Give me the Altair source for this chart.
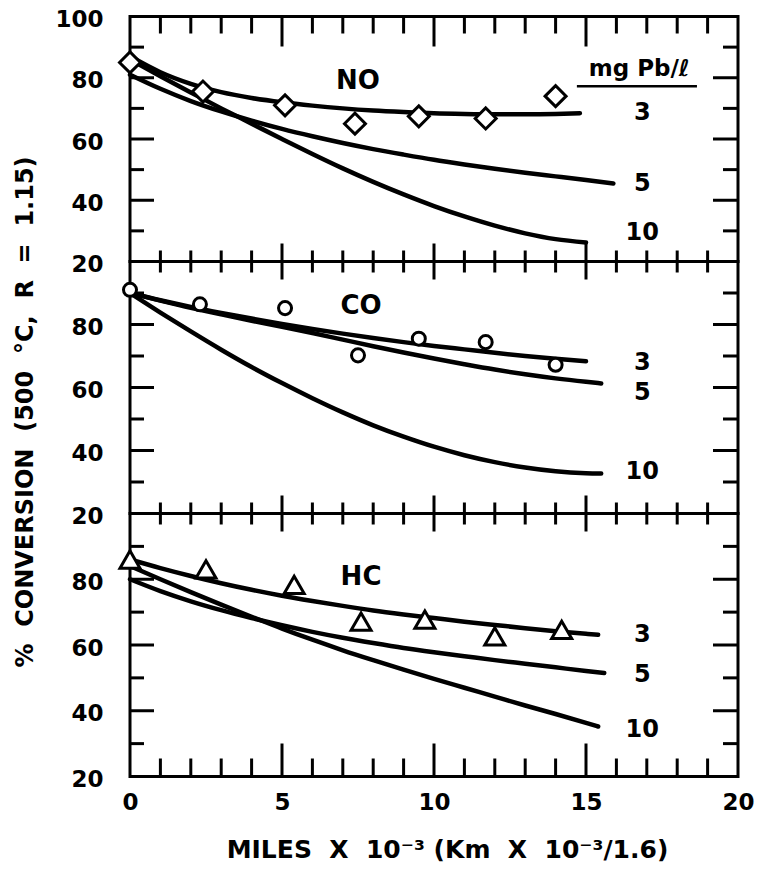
import altair as alt
import pandas as pd

FONT = "DejaVu Sans"

# ---------------- data ----------------
no3_x = [0, 1, 2, 3, 4, 5, 6, 7, 8, 9, 10, 11, 12, 13, 14, 14.8]
no3_y = [87, 81.8, 78, 75.3, 73.4, 72, 70.9, 70, 69.3, 68.8, 68.4, 68.2, 68.1, 68.1, 68.2, 68.4]
no5_x = [0, 1, 2, 3, 4, 5, 6, 7, 8, 9, 10, 11, 12, 13, 14, 15, 15.9]
no5_y = [81, 76.4, 72.4, 69, 66, 63.3, 60.9, 58.7, 56.7, 54.9, 53.2, 51.7, 50.3, 49, 47.8, 46.6, 45.5]
no10_x = [0, 1, 2, 3, 4, 5, 6, 7, 8, 9, 10, 11, 12, 13, 14, 15]
no10_y = [86, 80.5, 75.2, 70, 65, 60, 55.1, 50.4, 46, 41.9, 38.1, 34.7, 31.7, 29.2, 27.3, 26.2]
no_pts_x = [0, 2.4, 5.1, 7.4, 9.5, 11.7, 14.0]
no_pts_y = [85, 75.5, 71, 65, 67.4, 66.7, 74]

co3_x = [0, 1, 2, 3, 4, 5, 6, 7, 8, 9, 10, 11, 12, 13, 14, 15]
co3_y = [90, 87.7, 85.6, 83.7, 81.9, 80.2, 78.6, 77.1, 75.7, 74.4, 73.2, 72.1, 71, 70, 69.1, 68.3]
co5_x = [0, 1, 2, 3, 4, 5, 6, 7, 8, 9, 10, 11, 12, 13, 14, 15, 15.5]
co5_y = [90, 87.6, 85.3, 83.2, 81.2, 79.3, 77.3, 75.2, 73.1, 71.1, 69.2, 67.4, 65.7, 64.2, 62.9, 61.8, 61.3]
co10_x = [0, 1, 2, 3, 4, 5, 6, 7, 8, 9, 10, 11, 12, 13, 14, 15, 15.5]
co10_y = [90, 83.8, 77.8, 72, 66.5, 61.4, 56.6, 52.1, 48, 44.4, 41.2, 38.5, 36.3, 34.6, 33.4, 32.8, 32.7]
co_pts_x = [0, 2.3, 5.1, 7.5, 9.5, 11.7, 14.0]
co_pts_y = [91, 86.4, 85.2, 70.2, 75.5, 74.4, 67.2]

hc3_x = [0, 1, 2, 3, 4, 5, 6, 7, 8, 9, 10, 11, 12, 13, 14, 15, 15.4]
hc3_y = [86, 83.4, 81, 78.8, 76.8, 75, 73.4, 71.9, 70.5, 69.3, 68.2, 67.1, 66.1, 65.1, 64.2, 63.4, 63.1]
hc5_x = [0, 1, 2, 3, 4, 5, 6, 7, 8, 9, 10, 11, 12, 13, 14, 15, 15.6]
hc5_y = [80, 76.4, 73.3, 70.6, 68.2, 66, 64, 62.2, 60.6, 59.1, 57.8, 56.6, 55.4, 54.3, 53.2, 52.1, 51.5]
hc10_x = [0, 1, 2, 3, 4, 5, 6, 7, 8, 9, 10, 11, 12, 13, 14, 15, 15.4]
hc10_y = [84, 80, 76.1, 72.3, 68.6, 65, 61.6, 58.4, 55.4, 52.5, 49.7, 47, 44.3, 41.6, 39, 36.3, 35.2]
hc_pts_x = [0, 2.5, 5.4, 7.6, 9.7, 12.0, 14.2]
hc_pts_y = [86, 83, 78.3, 67.1, 67.7, 62.6, 64.6]

series_names = ["3", "5", "10"]
label_x = 16.85
no_label_y = [68.5, 45.2, 29.3]
co_label_y = [67.7, 58.2, 33.3]
hc_label_y = [63.1, 50.9, 34.2]

panel_names = ["NO", "CO", "HC"]
panel_name_x = [7.5, 7.6, 7.6]
panel_name_y = [79, 86, 80.8]

legend_title = "mg Pb/ℓ"
legend_title_x = 16.75
legend_title_y = 82.7
underline_x = [14.7, 18.65]
underline_y = 77.2

x_major = [5, 10, 15]
x_minor = [1, 2, 3, 4, 6, 7, 8, 9, 11, 12, 13, 14, 16, 17, 18, 19]
y_major = [40, 60, 80]
y_minor = [30, 50, 70, 90]
x_labels = [0, 5, 10, 15, 20]
y_labels_top = [20, 40, 60, 80, 100]
y_labels = [20, 40, 60, 80]

SP = "\u00a0\u00a0"
x_title = f"MILES{SP}X{SP}10⁻³ (Km{SP}X{SP}10⁻³/1.6)"
y_title = f"%{SP}CONVERSION{SP}(500{SP}°C,{SP}R{SP}={SP}1.15)"

W = 608
HEIGHTS = [245, 252, 263]

xscale = alt.Scale(domain=[0, 20], nice=False, zero=False)
yscale = alt.Scale(domain=[20, 100], nice=False, zero=False)


def curves_df(xs_list, ys_list):
    rows = []
    for name, xs, ys in zip(series_names, xs_list, ys_list):
        for a, b in zip(xs, ys):
            rows.append({"x": a, "y": b, "s": name})
    return pd.DataFrame(rows)


def panel(idx, xs_list, ys_list, px, py, shape, psize, label_ys):
    h = HEIGHTS[idx]
    if idx == 2:
        xaxis = alt.Axis(values=x_labels, ticks=False, domain=False, grid=False,
                         labelFont=FONT, labelFontWeight="bold", labelFontSize=23,
                         labelColor="black", labelPadding=15, labelFlush=False,
                         title=x_title, titleFont=FONT, titleFontWeight="bold",
                         titleFontSize=25, titleColor="black", titleX=317, titleY=81,
                         titleAlign="center", titleBaseline="alphabetic")
    else:
        xaxis = None
    yargs = dict(values=(y_labels_top if idx == 0 else y_labels), ticks=False,
                 domain=False, grid=False, labelFont=FONT, labelFontWeight="bold",
                 labelFontSize=23, labelColor="black", labelPadding=27,
                 labelFlush=False, labelOffset=3)
    if idx == 1:
        yargs.update(title=y_title, titleFont=FONT, titleFontWeight="bold",
                     titleFontSize=24, titleColor="black", titleX=-105, titleY=150,
                     titleAngle=270, titleAlign="center", titleBaseline="middle")
    else:
        yargs.update(title=None)
    yaxis = alt.Axis(**yargs)

    def X(f):
        return alt.X(f, scale=xscale, axis=xaxis)

    def Y(f):
        return alt.Y(f, scale=yscale, axis=yaxis)

    lines = alt.Chart(curves_df(xs_list, ys_list)).mark_line(
        color="black", strokeWidth=4.5, interpolate="monotone", strokeCap="round"
    ).encode(x=X("x:Q"), y=Y("y:Q"), detail="s:N")
    pts = alt.Chart(pd.DataFrame({"x": px, "y": py})).mark_point(
        shape=shape, size=psize, filled=True, fill="white", stroke="black",
        strokeWidth=3, opacity=1
    ).encode(x=X("x:Q"), y=Y("y:Q"))
    lab = alt.Chart(pd.DataFrame({"x": [label_x] * 3, "y": label_ys, "t": series_names})).mark_text(
        font=FONT, fontWeight="bold", fontSize=24, color="black", align="center", baseline="middle"
    ).encode(x=X("x:Q"), y=Y("y:Q"), text="t:N")
    name = alt.Chart(pd.DataFrame({"x": [panel_name_x[idx]], "y": [panel_name_y[idx]],
                                   "t": [panel_names[idx]]})).mark_text(
        font=FONT, fontWeight="bold", fontSize=26, color="black", align="center", baseline="middle"
    ).encode(x=X("x:Q"), y=Y("y:Q"), text="t:N")

    # tick marks drawn inward on all four sides
    top_len = (17, 30) if idx == 0 else (11, 18)
    bot_len = (18, 33) if idx == 2 else (11, 18)
    tick_layers = []
    for vals, tl, bl in [(x_minor, top_len[0], bot_len[0]), (x_major, top_len[1], bot_len[1])]:
        d = pd.DataFrame({"x": vals})
        tick_layers.append(alt.Chart(d).mark_rule(color="black", strokeWidth=3).encode(
            x=X("x:Q"), y=alt.value(0), y2=alt.value(tl)))
        tick_layers.append(alt.Chart(d).mark_rule(color="black", strokeWidth=3).encode(
            x=X("x:Q"), y=alt.value(h), y2=alt.value(h - bl)))
    for vals, ll, rl in [(y_minor, 14, 15), (y_major, 24, 25)]:
        d = pd.DataFrame({"y": vals})
        tick_layers.append(alt.Chart(d).mark_rule(color="black", strokeWidth=3).encode(
            y=Y("y:Q"), x=alt.value(0), x2=alt.value(ll)))
        tick_layers.append(alt.Chart(d).mark_rule(color="black", strokeWidth=3).encode(
            y=Y("y:Q"), x=alt.value(W), x2=alt.value(W - rl)))

    layers = [lines] + tick_layers + [pts, lab, name]
    if idx == 0:
        lt = alt.Chart(pd.DataFrame({"x": [legend_title_x], "y": [legend_title_y],
                                     "t": [legend_title]})).mark_text(
            font=FONT, fontWeight="bold", fontSize=23, color="black", align="center", baseline="middle"
        ).encode(x=X("x:Q"), y=Y("y:Q"), text="t:N")
        ul = alt.Chart(pd.DataFrame({"x": [underline_x[0]], "x2": [underline_x[1]],
                                     "y": [underline_y]})).mark_rule(color="black", strokeWidth=2.5).encode(
            x=X("x:Q"), x2="x2:Q", y=Y("y:Q"))
        layers += [lt, ul]
    return alt.layer(*layers).properties(width=W, height=h)


p1 = panel(0, [no3_x, no5_x, no10_x], [no3_y, no5_y, no10_y], no_pts_x, no_pts_y,
           "diamond", 440, no_label_y)
p2 = panel(1, [co3_x, co5_x, co10_x], [co3_y, co5_y, co10_y], co_pts_x, co_pts_y,
           "circle", 170, co_label_y)
p3 = panel(2, [hc3_x, hc5_x, hc10_x], [hc3_y, hc5_y, hc10_y], hc_pts_x, hc_pts_y,
           "triangle-up", 400, hc_label_y)

chart = alt.vconcat(p1, p2, p3, spacing=0, bounds="flush").properties(
    padding={"left": 11, "top": 6.5, "right": 0, "bottom": 0},
    background="white",
).configure_view(stroke="black", strokeWidth=3)

chart.save("out.html", embed_options={"renderer": "svg", "actions": False})
